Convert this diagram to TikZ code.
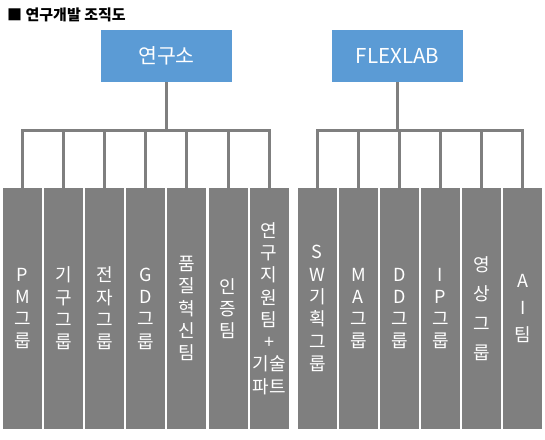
\documentclass[tikz,border=0pt]{standalone}
\usepackage{fontspec}
\newfontfamily\kr{Noto Sans CJK KR}
\usepackage{tikz}
\usetikzlibrary{positioning}
\definecolor{headblue}{HTML}{5B9BD5}
\definecolor{teamgray}{HTML}{7F7F7F}

\tikzset{
    topbox/.style={fill=headblue, text=white, minimum width=131pt, minimum height=52pt,
        inner sep=0pt, font=\kr\fontsize{20.5}{24}\selectfont},
    teambox/.style={fill=teamgray, text=white, minimum width=39pt, minimum height=241pt,
        inner sep=0pt, align=center, font=\kr\fontsize{18}{22.3}\selectfont},
    link/.style={draw=teamgray, line width=3pt}
}

\begin{document}
\begin{tikzpicture}[x=1pt, y=-1pt, node distance=1.7pt]
    \useasboundingbox (0,0) rectangle (545,439);

    % Title
    \node[anchor=west, inner sep=0pt, font=\kr\bfseries\fontsize{15}{17}\selectfont] (title) at (7,15) {■ 연구개발 조직도};

    % Heads
    \node[topbox] (rnd) at (166.5,56) {연구소};
    \node[topbox] (flex) at (397.5,56) {FLEXLAB};

    % Teams under 연구소
    \node[teambox] (pm) at (22.5,308.5) {P\\M\\그\\룹};
    \node[teambox, right=of pm] (mech) {기\\구\\그\\룹};
    \node[teambox, right=of mech] (elec) {전\\자\\그\\룹};
    \node[teambox, right=of elec] (gd) {G\\D\\그\\룹};
    \node[teambox, right=of gd] (qi) {품\\질\\혁\\신\\팀};
    \node[teambox, right=of qi] (cert) {인\\증\\팀};
    \node[teambox, right=of cert] (sup) {연\\구\\지\\원\\팀\\+\\기술\\파트};

    % Teams under FLEXLAB
    \node[teambox, right=8.8pt of sup] (sw) {S\\W\\기\\획\\그\\룹};
    \node[teambox, right=of sw] (ma) {M\\A\\그\\룹};
    \node[teambox, right=of ma] (dd) {D\\D\\그\\룹};
    \node[teambox, right=of dd] (ip) {I\\P\\그\\룹};
    \node[teambox, right=of ip, font=\kr\fontsize{18}{29.5}\selectfont] (vid) {영\\상\\그\\룹};
    \node[teambox, right=of vid, font=\kr\fontsize{18}{27}\selectfont] (ai) {A\\I\\팀};

    % Connectors
    \coordinate (bus) at (0,130);
    \foreach \c in {pm,mech,elec,gd,qi,cert,sup}
        \draw[link] (rnd.south) |- (\c.north |- bus) -- (\c.north);
    \foreach \c in {sw,ma,dd,ip,vid,ai}
        \draw[link] (flex.south) |- (\c.north |- bus) -- (\c.north);
\end{tikzpicture}
\end{document}
